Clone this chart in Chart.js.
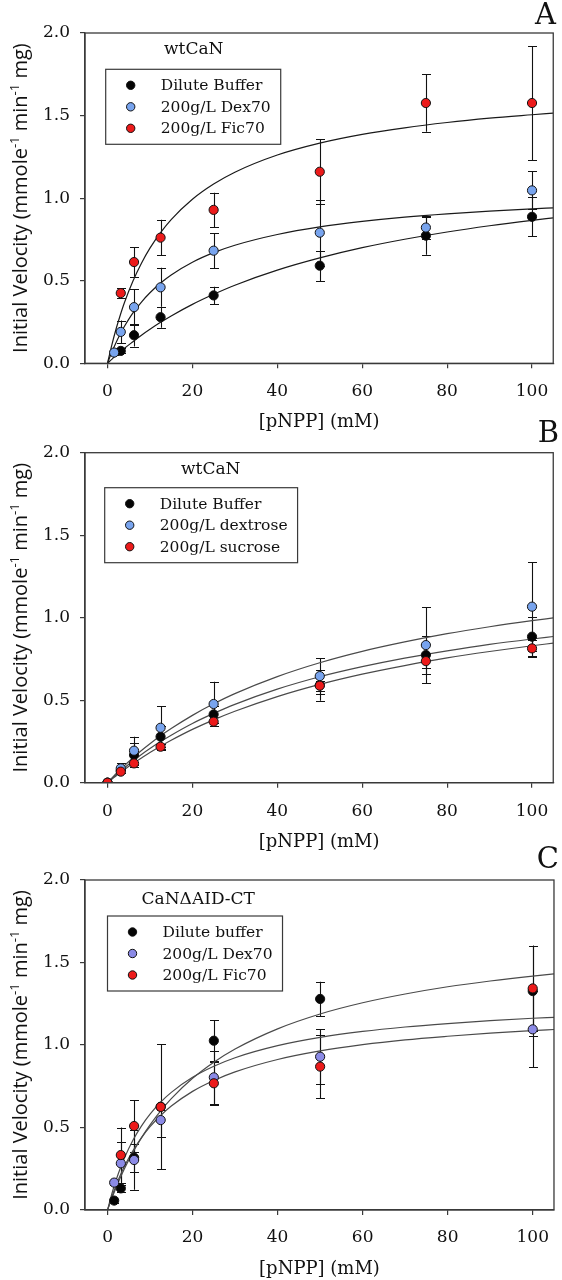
<!DOCTYPE html>
<html><head><meta charset="utf-8">
<script src="https://cdn.jsdelivr.net/npm/chart.js@4.4.1/dist/chart.umd.min.js"></script>
<style>
html,body{margin:0;padding:0;background:#fff;}
body{width:562px;height:1280px;position:relative;overflow:hidden;}
.panel{position:absolute;left:0;width:562px;height:440px;}
canvas{display:block;}
</style></head><body>
<div class="panel" style="top:0px"><canvas id="cA" width="562" height="440"></canvas></div>
<div class="panel" style="top:420px"><canvas id="cB" width="562" height="440"></canvas></div>
<div class="panel" style="top:840px"><canvas id="cC" width="562" height="440"></canvas></div>
<script>
// ---- shared axis data ----
const xTickValues = [0, 20, 40, 60, 80, 100];
const xTickLabels = ['0', '20', '40', '60', '80', '100'];
const yTickValues = [0, 0.5, 1.0, 1.5, 2.0];
const yTickLabels = ['0.0', '0.5', '1.0', '1.5', '2.0'];
const xAxisTitle = '[pNPP] (mM)';
const yAxisTitleParts = [['Initial Velocity (mmole', 0], ['-1', 1], [' min', 0], ['-1', 1], [' mg)', 0]];
const fitX = [0, 1, 2, 3, 4, 6, 8, 10, 12.5, 15, 20, 25, 30, 40, 50, 60, 70, 80, 90, 100, 105];

// ---- Panel A ----
const concA = [1.5625, 3.125, 6.25, 12.5, 25, 50, 75, 100];
const labelsA = ['Dilute Buffer', '200g/L Dex70', '200g/L Fic70'];
const bufferA = [null, 0.075, 0.170, 0.279, 0.411, 0.591, 0.773, 0.887];
const errBufferA = [0, 0.015, 0.069, 0.063, 0.053, 0.092, 0.115, 0.117];
const dex70A = [0.065, 0.190, 0.340, 0.460, 0.682, 0.791, 0.822, 1.047];
const errDex70A = [0.012, 0.069, 0.108, 0.118, 0.106, 0.200, 0.070, 0.115];
const fic70A = [null, 0.425, 0.613, 0.761, 0.929, 1.160, 1.576, 1.576];
const errFic70A = [0, 0.030, 0.089, 0.108, 0.104, 0.196, 0.174, 0.345];
const fitBufferA = [0, 0.024, 0.047, 0.069, 0.091, 0.131, 0.170, 0.206, 0.248, 0.287, 0.357, 0.418, 0.473, 0.564, 0.638, 0.700, 0.751, 0.795, 0.833, 0.866, 0.881];
const fitDex70A = [0, 0.067, 0.125, 0.178, 0.224, 0.305, 0.371, 0.427, 0.486, 0.535, 0.612, 0.670, 0.715, 0.780, 0.826, 0.859, 0.885, 0.905, 0.921, 0.935, 0.941];
const fitFic70A = [0, 0.109, 0.206, 0.291, 0.368, 0.498, 0.606, 0.697, 0.791, 0.870, 0.993, 1.085, 1.157, 1.261, 1.333, 1.386, 1.426, 1.458, 1.484, 1.505, 1.515];

// ---- Panel B ----
const concB = [0, 3.125, 6.25, 12.5, 25, 50, 75, 100];
const labelsB = ['Dilute Buffer', '200g/L dextrose', '200g/L sucrose'];
const bufferB = [0, 0.075, 0.168, 0.279, 0.414, 0.590, 0.774, 0.885];
const errBufferB = [0, 0.015, 0.070, 0.063, 0.053, 0.093, 0.115, 0.117];
const dextroseB = [0, 0.087, 0.194, 0.333, 0.477, 0.646, 0.834, 1.067];
const errDextroseB = [0, 0.030, 0.085, 0.132, 0.135, 0.108, 0.230, 0.270];
const sucroseB = [0, 0.067, 0.117, 0.218, 0.370, 0.588, 0.737, 0.814];
const errSucroseB = [0, 0.010, 0.010, 0.015, 0.027, 0.030, 0.040, 0.050];
const fitBufferB = [0, 0.024, 0.047, 0.069, 0.091, 0.132, 0.171, 0.207, 0.249, 0.288, 0.359, 0.420, 0.475, 0.567, 0.642, 0.703, 0.755, 0.799, 0.838, 0.871, 0.886];
const fitDextroseB = [0, 0.028, 0.054, 0.080, 0.104, 0.151, 0.195, 0.236, 0.284, 0.328, 0.408, 0.478, 0.540, 0.643, 0.727, 0.796, 0.853, 0.903, 0.945, 0.982, 0.999];
const fitSucroseB = [0, 0.021, 0.041, 0.061, 0.080, 0.116, 0.150, 0.183, 0.221, 0.257, 0.323, 0.381, 0.433, 0.522, 0.596, 0.658, 0.710, 0.756, 0.795, 0.830, 0.846];

// ---- Panel C ----
const concC = [1.5625, 3.125, 6.25, 12.5, 25, 50, 100];
const labelsC = ['Dilute buffer', '200g/L Dex70', '200g/L Fic70'];
const bufferC = [0.057, 0.131, 0.317, 0.626, 1.026, 1.279, 1.327];
const errBufferC = [0.012, 0.020, 0.085, 0.380, 0.125, 0.105, 0.270];
const dex70C = [0.166, 0.283, 0.303, 0.545, 0.804, 0.929, 1.095];
const errDex70C = [0.012, 0.130, 0.180, 0.100, 0.160, 0.167, 0.230];
const fic70C = [null, 0.333, 0.509, 0.625, 0.768, 0.869, 1.343];
const errFic70C = [0, 0.167, 0.158, 0.020, 0.130, 0.190, 0.260];
const fitBufferC = [0, 0.070, 0.135, 0.195, 0.251, 0.351, 0.439, 0.516, 0.601, 0.675, 0.798, 0.896, 0.976, 1.098, 1.188, 1.256, 1.309, 1.353, 1.388, 1.418, 1.431];
const fitFic70C = [0, 0.097, 0.180, 0.253, 0.317, 0.424, 0.510, 0.581, 0.654, 0.713, 0.804, 0.871, 0.923, 0.996, 1.046, 1.082, 1.109, 1.130, 1.148, 1.162, 1.168];
const fitDex70C = [0, 0.079, 0.149, 0.211, 0.267, 0.361, 0.439, 0.505, 0.573, 0.630, 0.719, 0.785, 0.837, 0.912, 0.964, 1.002, 1.031, 1.053, 1.072, 1.087, 1.094];

const panelLetters = ['A', 'B', 'C'];
const panelTitles = ['wtCaN', 'wtCaN', 'CaN\u0394AID-CT'];

const BLACK = '#050505', BLUE = '#78a4ee', RED = '#ec1a1a', PURPLE = '#8b8ae6';
const SERIF = '"DejaVu Serif", serif';
const AXIS = '#3a3a3a';

const decoPlugin = {
  id: 'deco',
  beforeDatasetsDraw(chart) {
    const ctx = chart.ctx, xs = chart.scales.x, ys = chart.scales.y;
    const ca = chart.chartArea;
    ctx.save();
    ctx.beginPath(); ctx.rect(ca.left, ca.top - 2, ca.right - ca.left, ca.bottom - ca.top + 2); ctx.clip();
    ctx.strokeStyle = '#111'; ctx.lineWidth = 1.1;
    chart.data.datasets.forEach(ds => {
      if (!ds.errors) return;
      ds.data.forEach((p, i) => {
        const e = ds.errors[i];
        if (!e) return;
        const x = Math.round(xs.getPixelForValue(p.x)) + 0.5;
        const y1 = ys.getPixelForValue(p.y + e), y2 = ys.getPixelForValue(p.y - e);
        ctx.beginPath();
        ctx.moveTo(x, y1); ctx.lineTo(x, y2);
        ctx.moveTo(x - 4.5, Math.round(y1) + 0.5); ctx.lineTo(x + 4.5, Math.round(y1) + 0.5);
        ctx.moveTo(x - 4.5, Math.round(y2) + 0.5); ctx.lineTo(x + 4.5, Math.round(y2) + 0.5);
        ctx.stroke();
      });
    });
    ctx.restore();
  },
  afterDraw(chart) {
    const o = chart.options.plugins.deco;
    const ctx = chart.ctx, ca = chart.chartArea;
    ctx.save();
    // frame
    ctx.strokeStyle = AXIS; ctx.lineWidth = 1.3;
    ctx.strokeRect(ca.left, ca.top, ca.right - ca.left, ca.bottom - ca.top);
    // panel letter
    ctx.fillStyle = '#111';
    ctx.font = '29px ' + SERIF;
    ctx.textAlign = 'right'; ctx.textBaseline = 'middle';
    ctx.fillText(o.letter, o.letterX, o.letterY);
    // panel title
    ctx.font = '17px ' + SERIF;
    ctx.textAlign = 'left';
    ctx.fillText(o.title, o.titleX, o.titleY);
    // legend
    const items = chart.data.datasets.filter(d => d.legendItem);
    ctx.font = '15.5px ' + SERIF;
    let maxW = 0;
    items.forEach(d => { maxW = Math.max(maxW, ctx.measureText(d.label).width); });
    const bx = o.legendX, by = o.legendY, bh = 75;
    const bw = 55 + maxW + 10;
    ctx.strokeStyle = AXIS; ctx.lineWidth = 1.2;
    ctx.strokeRect(bx, by, bw, bh);
    const rows = [16, 37.5, 59];
    items.forEach((d, i) => {
      const cy = by + rows[i];
      ctx.beginPath(); ctx.arc(bx + 25, cy, 4.2, 0, Math.PI * 2);
      ctx.fillStyle = d.backgroundColor; ctx.fill();
      ctx.strokeStyle = '#111'; ctx.lineWidth = 1; ctx.stroke();
      ctx.fillStyle = '#111'; ctx.textAlign = 'left'; ctx.textBaseline = 'middle';
      ctx.fillText(d.label, bx + 55, cy + 1);
    });
    // y axis title with superscripts
    ctx.translate(20, (ca.top + ca.bottom) / 2);
    ctx.rotate(-Math.PI / 2);
    const normalFont = '20px "Open Sans", sans-serif', supFont = '13px "Open Sans", sans-serif';
    let total = 0;
    yAxisTitleParts.forEach(([t, s]) => { ctx.font = s ? supFont : normalFont; total += ctx.measureText(t).width; });
    let x = -total / 2;
    ctx.fillStyle = '#111'; ctx.textAlign = 'left'; ctx.textBaseline = 'alphabetic';
    yAxisTitleParts.forEach(([t, s]) => {
      ctx.font = s ? supFont : normalFont;
      ctx.fillText(t, x, s ? -1 : 7);
      x += ctx.measureText(t).width;
    });
    ctx.restore();
  }
};

function makePanel(id, p) {
  const datasets = [];
  p.fits.forEach(f => {
    datasets.push({
      label: 'fit', data: fitX.map((x, i) => ({ x, y: f[i] })),
      showLine: true, pointRadius: 0, borderColor: p.fitColor, borderWidth: 1.2,
      cubicInterpolationMode: 'monotone', fill: false, order: 10
    });
  });
  p.series.forEach((s, k) => {
    const pts = [], errs = [];
    p.conc.forEach((x, i) => { if (s.values[i] !== null) { pts.push({ x, y: s.values[i] }); errs.push(s.errors[i]); } });
    datasets.push({
      label: s.label, data: pts, errors: errs, legendItem: true,
      pointRadius: 4.6, pointHoverRadius: 4.6, backgroundColor: s.color, borderColor: '#111',
      borderWidth: 1, showLine: false, order: 3 - k
    });
  });
  return new Chart(document.getElementById(id), {
    type: 'scatter',
    data: { datasets },
    plugins: [decoPlugin],
    options: {
      responsive: false, animation: false, devicePixelRatio: 1,
      layout: { padding: { top: p.plotTop, right: 2, left: 0, bottom: 0 } },
      plugins: {
        legend: { display: false }, tooltip: { enabled: false },
        deco: p.deco
      },
      scales: {
        x: {
          type: 'linear', min: -5.3, max: 105,
          afterBuildTicks: s => { s.ticks = xTickValues.map(v => ({ value: v })); },
          afterFit: s => { s.height = 440 - p.plotBottom; },
          ticks: { callback: (v, i) => xTickLabels[i], font: { family: SERIF, size: 17 }, color: '#111', padding: p.xTickPad, maxRotation: 0, autoSkip: false },
          grid: { drawOnChartArea: false, drawTicks: true, tickLength: 5, color: AXIS, lineWidth: 1.2 },
          border: { display: true, color: AXIS, width: 1.3 },
          title: { display: true, text: xAxisTitle, font: { family: SERIF, size: 18 }, color: '#111', padding: { top: 0, bottom: p.xTitlePad } }
        },
        y: {
          type: 'linear', min: 0, max: 2,
          afterBuildTicks: s => { s.ticks = yTickValues.map(v => ({ value: v })); },
          afterFit: s => { s.width = 85; },
          ticks: { callback: (v, i) => yTickLabels[i], font: { family: SERIF, size: 17 }, color: '#111', padding: 10, autoSkip: false },
          grid: { drawOnChartArea: false, drawTicks: true, tickLength: 5, color: AXIS, lineWidth: 1.2 },
          border: { display: true, color: AXIS, width: 1.3 }
        }
      }
    }
  });
}

makePanel('cA', {
  conc: concA, plotTop: 33, plotBottom: 363.3, xTickPad: 13.5, xTitlePad: 7.2, fitColor: '#1a1a1a',
  fits: [fitBufferA, fitDex70A, fitFic70A],
  series: [
    { label: labelsA[0], values: bufferA, errors: errBufferA, color: BLACK },
    { label: labelsA[1], values: dex70A, errors: errDex70A, color: BLUE },
    { label: labelsA[2], values: fic70A, errors: errFic70A, color: RED }
  ],
  deco: { letter: panelLetters[0], letterX: 556, letterY: 16, title: panelTitles[0], titleX: 164, titleY: 50, legendX: 105.7, legendY: 69.3 }
});
makePanel('cB', {
  conc: concB, plotTop: 32.7, plotBottom: 362.7, xTickPad: 13.5, xTitlePad: 7.2, fitColor: '#4a4a4a',
  fits: [fitBufferB, fitDextroseB, fitSucroseB],
  series: [
    { label: labelsB[0], values: bufferB, errors: errBufferB, color: BLACK },
    { label: labelsB[1], values: dextroseB, errors: errDextroseB, color: BLUE },
    { label: labelsB[2], values: sucroseB, errors: errSucroseB, color: RED }
  ],
  deco: { letter: panelLetters[1], letterX: 559, letterY: 14, title: panelTitles[1], titleX: 181, titleY: 50, legendX: 104.7, legendY: 67.7 }
});
makePanel('cC', {
  conc: concC, plotTop: 40, plotBottom: 370, xTickPad: 12.8, xTitlePad: 0, fitColor: '#4a4a4a',
  fits: [fitBufferC, fitDex70C, fitFic70C],
  series: [
    { label: labelsC[0], values: bufferC, errors: errBufferC, color: BLACK },
    { label: labelsC[1], values: dex70C, errors: errDex70C, color: PURPLE },
    { label: labelsC[2], values: fic70C, errors: errFic70C, color: RED }
  ],
  deco: { letter: panelLetters[2], letterX: 559, letterY: 20, title: panelTitles[2], titleX: 141.6, titleY: 60, legendX: 107.5, legendY: 76 }
});
</script>
</body></html>
